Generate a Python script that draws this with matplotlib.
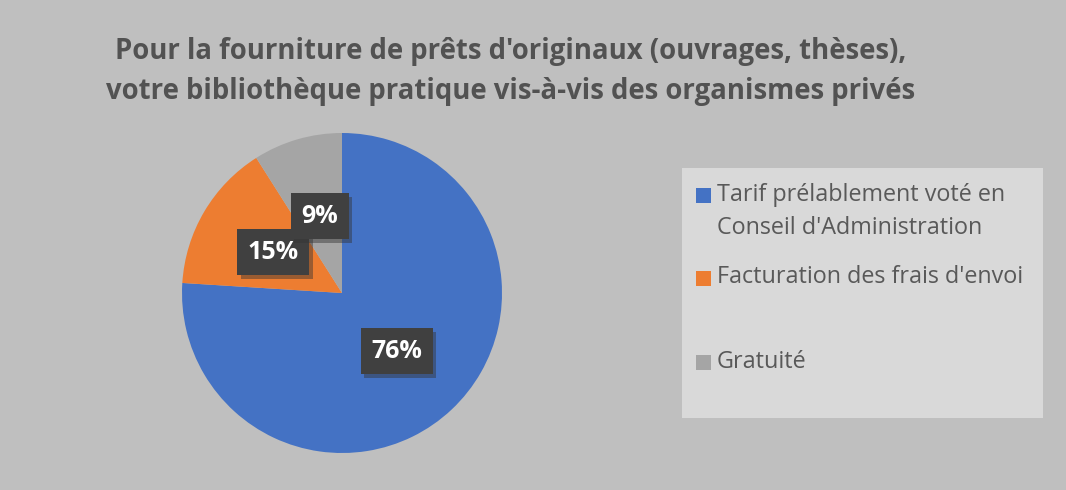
import matplotlib
matplotlib.use("Agg")
import matplotlib.pyplot as plt
from matplotlib.patches import Rectangle
import matplotlib.patheffects as pe

title = "Pour la fourniture de prêts d'originaux (ouvrages, thèses),\nvotre bibliothèque pratique vis-à-vis des organismes privés"
categories = ["Tarif prélablement voté en\nConseil d'Administration",
              "Facturation des frais d'envoi",
              "Gratuité"]
values = [76, 15, 9]
colors = ["#4472C4", "#ED7D31", "#A5A5A5"]

W, H = 1066, 490
fig = plt.figure(figsize=(W / 100, H / 100), dpi=100)
fig.patch.set_facecolor("#BFBFBF")
plt.rcParams['font.family'] = ['Open Sans', 'DejaVu Sans']

def px(x, y):
    return x / W, 1 - y / H

# title
fig.text(*px(511, 71), title, ha="center", va="center", fontsize=19.8,
         fontweight="bold", color="#525252", linespacing=1.5)

# pie
cx, cy, r = 342, 293, 160
ax = fig.add_axes([(cx - r) / W, 1 - (cy + r) / H, 2 * r / W, 2 * r / H])
ax.set_facecolor("none")
wedges, texts, autotexts = ax.pie(values, colors=colors, startangle=90, counterclock=False,
                                  autopct="%d%%", pctdistance=0.5, radius=1.0,
                                  wedgeprops=dict(linewidth=0))
ax.set_xlim(-1, 1)
ax.set_ylim(-1, 1)
ax.set_aspect("equal")
for t in autotexts:
    t.set_color("white")
    t.set_fontsize(18)
    t.set_fontweight("bold")
    t.set_bbox(dict(boxstyle="square,pad=0.42", facecolor="#404040", edgecolor="none"))
    t.get_bbox_patch().set_path_effects([pe.SimplePatchShadow(offset=(2.5, -2.5), shadow_rgbFace="#333333", alpha=0.45), pe.Normal()])

# legend (manual, Excel style)
lx0, ly0, lx1, ly1 = 682, 168, 1043, 418
fig.patches.append(Rectangle(px(lx0, ly1), (lx1 - lx0) / W, (ly1 - ly0) / H,
                             transform=fig.transFigure, facecolor="#D9D9D9",
                             edgecolor="none", zorder=0))
square_y = [195.5, 278.5, 362.5]
text_y = [211.5, 277, 362]
for cat, col, sy, ty in zip(categories, colors, square_y, text_y):
    fig.patches.append(Rectangle(px(696, sy + 7.5), 15 / W, 15 / H,
                                 transform=fig.transFigure, facecolor=col,
                                 edgecolor="none", zorder=1))
    fig.text(*px(717, ty), cat, ha="left", va="center", fontsize=16.8,
             color="#595959", linespacing=1.45)

fig.savefig("out.png", dpi=100, facecolor=fig.get_facecolor())
